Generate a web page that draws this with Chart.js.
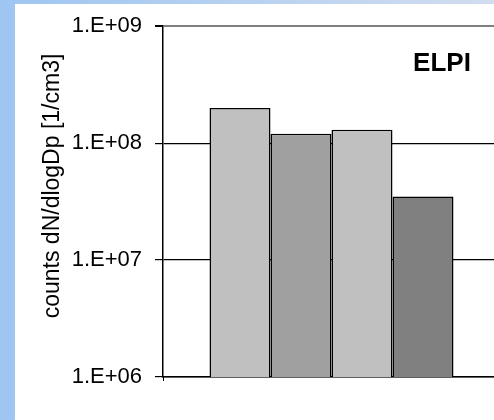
<!DOCTYPE html>
<html>
<head>
<meta charset="utf-8">
<script src="https://cdn.jsdelivr.net/npm/chart.js@4/dist/chart.umd.min.js"></script>
<style>
  html, body { margin: 0; padding: 0; overflow: hidden; background: #ffffff; }
  #wrap { width: 500px; height: 420px; position: relative; }
</style>
</head>
<body>
<div id="wrap"><canvas id="c"></canvas></div>
<script>
// ---- data ----
const categories = [''];
const seriesNames = ['Series 1', 'Series 2', 'Series 3', 'Series 4'];
const seriesValues = [2.0e8, 1.2e8, 1.3e8, 3.5e7];
const seriesColors = ['#c0c0c0', '#a0a0a0', '#c0c0c0', '#808080'];
const yTicks = [1e6, 1e7, 1e8, 1e9];
const yTickLabels = ['1.E+06', '1.E+07', '1.E+08', '1.E+09'];
const yTitle = 'counts dN/dlogDp [1/cm3]';
const panelLabel = 'ELPI';

const FONT = "'Liberation Sans', Arial, sans-serif";

const bgPlugin = {
  id: 'bg',
  beforeDraw(chart) {
    const ctx = chart.ctx;
    const w = chart.width, h = chart.height;
    ctx.save();
    const g = ctx.createLinearGradient(0, 0, w, 0);
    g.addColorStop(0, '#9ec6f2');
    g.addColorStop(1, '#d2ddef');
    ctx.fillStyle = g;
    ctx.fillRect(0, 0, w, h);
    ctx.fillStyle = '#ffffff';
    ctx.fillRect(15, 4, w - 15, h - 4);
    ctx.restore();
  }
};

const textPlugin = {
  id: 'texts',
  afterDraw(chart) {
    const ctx = chart.ctx;
    ctx.save();
    ctx.font = 'bold 26px ' + FONT;
    ctx.fillStyle = '#000';
    ctx.textAlign = 'center';
    ctx.textBaseline = 'middle';
    ctx.fillText(panelLabel, 442, 64);
    ctx.restore();

    ctx.save();
    ctx.translate(53, 186);
    ctx.rotate(-Math.PI / 2);
    ctx.font = '23px ' + FONT;
    ctx.fillStyle = '#000';
    ctx.textAlign = 'center';
    ctx.textBaseline = 'middle';
    ctx.fillText(yTitle, 0, 0);
    ctx.restore();

    const a = chart.chartArea;
    ctx.save();
    ctx.strokeStyle = '#000';
    ctx.lineWidth = 1;
    ctx.beginPath();
    ctx.moveTo(Math.round(a.left) + 0.5, a.bottom);
    ctx.lineTo(Math.round(a.left) + 0.5, a.bottom + 4);
    ctx.stroke();
    ctx.restore();
  }
};

new Chart(document.getElementById('c'), {
  type: 'bar',
  data: {
    labels: categories,
    datasets: seriesNames.map((n, i) => ({
      label: n,
      data: [seriesValues[i]],
      backgroundColor: seriesColors[i],
      borderColor: '#000',
      borderWidth: 1.5,
      categoryPercentage: 0.724,
      barPercentage: 1.0
    }))
  },
  options: {
    responsive: true,
    maintainAspectRatio: false,
    animation: false,
    layout: { padding: { left: 15, top: 26, right: 0, bottom: 43 } },
    plugins: { legend: { display: false }, tooltip: { enabled: false } },
    scales: {
      x: {
        grid: { display: false, drawTicks: false },
        ticks: { display: false },
        border: { display: true, color: '#000', width: 1.5 }
      },
      y: {
        type: 'logarithmic',
        min: 1e6,
        max: 1e9,
        afterBuildTicks(scale) { scale.ticks = yTicks.map(v => ({ value: v })); },
        afterFit(scale) { scale.width = 148; },
        ticks: {
          color: '#000',
          font: { family: FONT, size: 22 },
          padding: 13,
          callback: (v) => { const i = yTicks.indexOf(v); return i >= 0 ? yTickLabels[i] : ''; }
        },
        grid: {
          color: (ctx) => (ctx.tick && ctx.tick.value === 1e9 ? '#808080' : '#000'),
          lineWidth: (ctx) => (ctx.tick && ctx.tick.value === 1e9 ? 2 : 1.2),
          tickColor: '#000',
          tickLength: 8
        },
        border: { display: true, color: '#000', width: 1.5 },
        title: { display: false }
      }
    }
  },
  plugins: [bgPlugin, textPlugin]
});
</script>
</body>
</html>
